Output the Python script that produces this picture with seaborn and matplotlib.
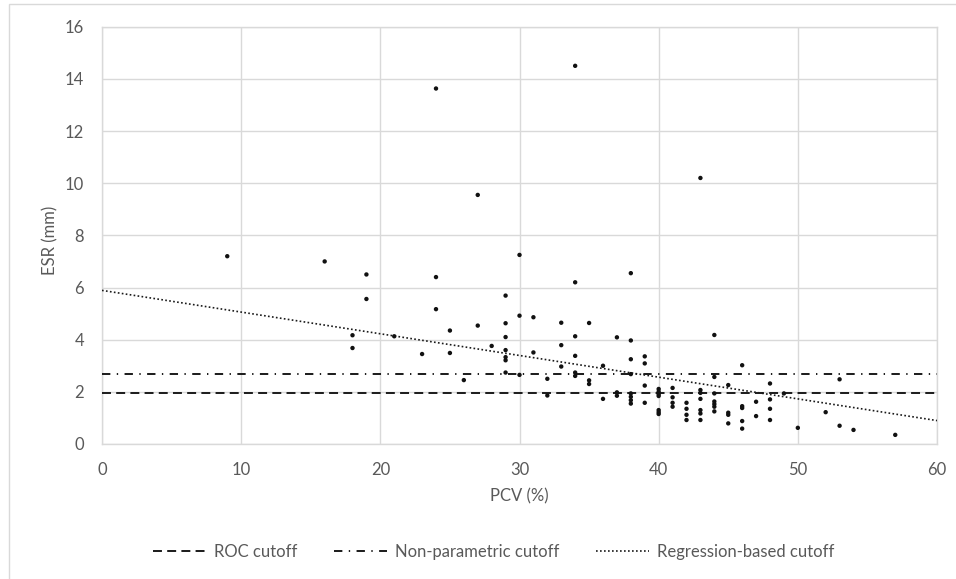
import numpy as np
import pandas as pd
import matplotlib
matplotlib.use("Agg")
import matplotlib.pyplot as plt
from matplotlib.patches import Rectangle
import seaborn as sns

# ---- data ----
pcv = [9, 16, 18, 18, 19, 19, 21, 23, 24, 24, 24, 25, 25, 26, 27, 27, 28,
       29, 29, 29, 29, 29, 29, 29, 30, 30, 30, 31, 31, 32, 32, 33, 33, 33,
       34, 34, 34, 34, 34, 34, 35, 35, 35, 36, 36, 37, 37, 37,
       38, 38, 38, 38, 38, 38, 38, 38, 39, 39, 39, 39,
       40, 40, 40, 40, 40, 40, 40, 41, 41, 41, 41, 42, 42, 42, 42,
       43, 43, 43, 43, 43, 43, 43, 44, 44, 44, 44, 44, 44, 44,
       45, 45, 45, 45, 46, 46, 46, 46, 46, 47, 47, 48, 48, 48, 48,
       49, 50, 52, 53, 53, 54, 57]
esr = [7.2, 7.0, 4.17, 3.68, 6.5, 5.56, 4.13, 3.45, 13.63, 6.4, 5.17, 4.35, 3.49, 2.45, 9.55, 4.54, 3.76,
       5.69, 4.63, 4.1, 3.6, 3.33, 3.21, 2.74, 7.25, 4.92, 2.65, 4.86, 3.51, 2.5, 1.86, 4.65, 3.79, 2.97,
       14.5, 6.2, 4.13, 3.38, 2.74, 2.61, 4.64, 2.44, 2.3, 3.0, 1.73, 4.09, 1.98, 1.85,
       6.55, 3.97, 3.25, 2.68, 1.94, 1.81, 1.68, 1.55, 3.36, 3.09, 2.24, 1.58,
       2.11, 2.01, 1.91, 1.84, 1.3, 1.22, 1.15, 2.15, 1.79, 1.58, 1.43, 1.58, 1.35, 1.12, 0.92,
       10.2, 2.07, 1.96, 1.73, 1.3, 1.17, 0.92, 4.18, 2.57, 1.94, 1.63, 1.53, 1.43, 1.25,
       2.26, 1.2, 1.12, 0.79, 3.02, 1.45, 1.38, 0.88, 0.59, 1.62, 1.07, 2.32, 1.71, 1.35, 0.92,
       1.94, 0.62, 1.22, 2.48, 0.7, 0.54, 0.35]

roc_cutoff = 1.94
nonparam_cutoff = 2.70
reg_intercept = 5.89
reg_slope = -0.0832
x_range = [0, 60]
legend_labels = ["ROC cutoff", "Non-parametric cutoff", "Regression-based cutoff"]
x_ticks = [0, 10, 20, 30, 40, 50, 60]
y_ticks = [0, 2, 4, 6, 8, 10, 12, 14, 16]

# ---- styling ----
sns.set_style("white")
plt.rcParams['font.family'] = ['Lato', 'DejaVu Sans']
TXT = "#595959"
GRID = "#d9d9d9"
FS = 12

fig = plt.figure(figsize=(9.56, 5.79), dpi=100)
ax = fig.add_axes([102/956, 1-444/579, (937-102)/956, (444-26.7)/579])

df = pd.DataFrame({"PCV": pcv, "ESR": esr})
sns.scatterplot(data=df, x="PCV", y="ESR", ax=ax, color="#111111", s=10,
                edgecolor="none", zorder=4, legend=False)

ax.axhline(roc_cutoff, color="#1a1a1a", lw=1.4, dashes=(4.6, 2.7),
           label=legend_labels[0], zorder=3)
ax.axhline(nonparam_cutoff, color="#1a1a1a", lw=1.4, dashes=(4.3, 3.3, 0.7, 3.3),
           label=legend_labels[1], zorder=3)
reg_df = pd.DataFrame({"x": x_range,
                       "y": [reg_intercept + reg_slope * v for v in x_range]})
sns.lineplot(data=reg_df, x="x", y="y", ax=ax, color="#1a1a1a", lw=1.2,
             label=legend_labels[2], zorder=3)
ax.lines[-1].set_dashes((1, 1.4))
if ax.get_legend() is not None:
    ax.get_legend().remove()

ax.set_xlim(0, 60)
ax.set_ylim(0, 16)
ax.set_xticks(x_ticks)
ax.set_yticks(y_ticks)
ax.grid(True, color=GRID, lw=1)
ax.set_axisbelow(True)
for sp in ax.spines.values():
    sp.set_color(GRID)
    sp.set_linewidth(1)
ax.tick_params(length=0, labelsize=FS, labelcolor=TXT, pad=13)

ax.set_xlabel("PCV (%)", fontsize=FS, color=TXT)
ax.set_ylabel("ESR (mm)", fontsize=FS, color=TXT)
ax.xaxis.set_label_coords(0.5, -(496-444)/(444-26.7))
ax.xaxis.label.set_va("center")
ax.yaxis.set_label_coords((50-102)/835, (444-240)/(444-26.7))
ax.yaxis.label.set_va("center")

handles, labels = ax.get_legend_handles_labels()
leg = fig.legend(handles, labels, loc="center left",
                 bbox_to_anchor=(153/956, 1-552/579), ncol=3, frameon=False,
                 fontsize=FS, handlelength=3.2, handletextpad=0.45,
                 columnspacing=2.2, borderaxespad=0, borderpad=0)
for t in leg.get_texts():
    t.set_color(TXT)

# outer chart frame
fig.patches.append(Rectangle((9/956, -0.1), 1.2, 1.1 - 4/579,
                             transform=fig.transFigure, fill=False,
                             edgecolor=GRID, lw=1, clip_on=False))

fig.savefig("out.png", dpi=100)
